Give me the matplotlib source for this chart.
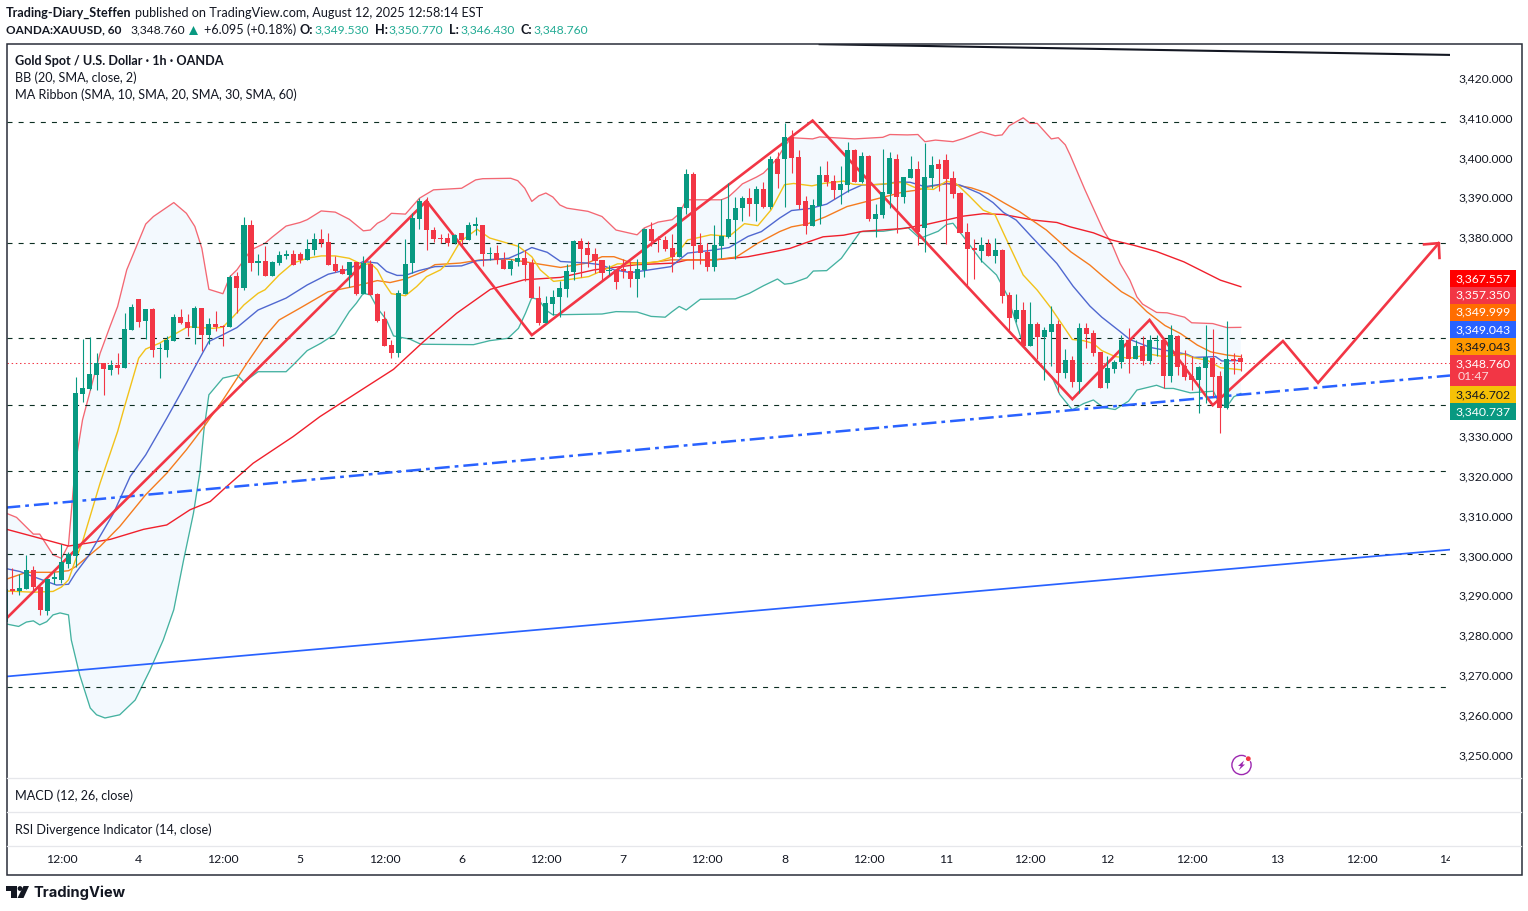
import numpy as np
import matplotlib
matplotlib.use('Agg')
import matplotlib.pyplot as plt
from matplotlib.patches import Rectangle, Circle, Polygon

# hourly candles, bar index = position on the chart
opens = [3283.4,3291.6,3291.1,3291.6,3296.4,3292.0,3286.1,3294.2,3293.9,3297.9,
3299.9,3340.6,3341.9,3345.4,3348.4,3346.7,3347.9,3347.2,3356.7,3364.5,
3359.0,3362.0,3351.8,3351.7,3353.9,3360.0,3358.7,3357.2,3362.2,3355.5,
3358.2,3357.7,3357.5,3370.3,3367.2,3383.1,3373.5,3374.0,3370.3,3373.5,
3375.3,3375.8,3375.8,3374.3,3376.8,3379.6,3378.8,3373.3,3372.0,3370.5,
3373.8,3365.8,3373.3,3365.8,3359.5,3352.9,3351.0,3365.8,3373.6,3384.6,
3389.1,3381.8,3379.9,3379.8,3378.5,3381.0,3379.3,3382.9,3383.1,3375.8,
3376.1,3374.3,3372.1,3373.8,3374.8,3373.5,3364.8,3358.4,3363.3,3365.0,
3367.0,3371.3,3379.1,3377.3,3375.8,3374.3,3371.5,3371.8,3372.1,3371.5,
3369.5,3371.8,3382.1,3379.5,3379.3,3377.3,3375.1,3387.4,3395.9,3378.1,
3376.3,3372.6,3377.8,3380.1,3384.4,3387.4,3389.9,3388.4,3392.2,3387.6,
3399.7,3399.6,3405.2,3400.1,3389.1,3382.8,3387.8,3395.6,3394.1,3391.8,
3393.1,3401.9,3393.9,3400.4,3384.6,3385.6,3390.8,3399.6,3390.1,3394.9,
3397.1,3382.3,3394.9,3398.4,3399.4,3394.9,3391.1,3381.3,3377.3,3376.5,
3378.4,3375.3,3376.8,3365.5,3359.4,3361.7,3352.6,3358.2,3354.9,3356.2,
3358.2,3345.9,3349.1,3343.6,3357.2,3355.9,3351.1,3343.4,3346.9,3348.6,
3354.2,3349.4,3352.7,3348.9,3353.9,3354.2,3345.1,3355.2,3347.6,3345.1,
3344.1,3347.1,3349.6,3345.1,3337.1,3349.4,3349.53]
highs = [3291.6,3296.8,3295.3,3300.2,3297.4,3292.4,3294.1,3296.0,3302.9,3301.0,
3344.8,3354.5,3354.9,3351.0,3348.5,3349.2,3350.9,3361.0,3363.2,3364.5,
3361.9,3362.2,3353.4,3355.2,3360.7,3362.0,3360.7,3362.6,3362.2,3359.7,
3361.5,3358.0,3370.5,3371.2,3385.1,3384.4,3375.8,3377.8,3374.0,3376.6,
3376.8,3376.8,3376.3,3379.6,3381.1,3382.1,3381.1,3375.3,3373.0,3373.8,
3373.8,3375.3,3374.3,3365.9,3361.5,3354.2,3366.8,3379.5,3386.0,3389.9,
3390.2,3382.5,3380.8,3381.0,3380.8,3381.0,3383.8,3385.0,3383.1,3377.5,
3378.1,3376.3,3374.6,3378.5,3376.8,3374.6,3367.8,3365.3,3366.8,3369.0,
3373.3,3379.3,3379.8,3379.1,3377.3,3374.3,3373.1,3371.8,3374.4,3373.9,
3374.5,3382.3,3383.8,3380.2,3380.3,3380.8,3387.7,3397.1,3396.4,3381.1,
3378.6,3383.1,3389.6,3393.6,3390.1,3390.4,3392.3,3392.9,3393.9,3400.3,
3401.3,3408.8,3406.9,3401.9,3390.3,3389.6,3397.9,3399.1,3395.6,3397.9,
3403.9,3402.1,3401.4,3400.6,3388.3,3402.1,3401.4,3400.9,3395.1,3400.4,
3399.1,3403.7,3400.4,3399.6,3400.8,3396.6,3391.3,3383.6,3379.5,3380.0,
3379.5,3379.8,3377.0,3366.2,3365.7,3363.7,3363.7,3358.7,3357.4,3362.7,
3359.2,3351.9,3350.1,3358.4,3358.4,3356.7,3351.1,3350.1,3349.1,3355.4,
3357.2,3354.2,3355.2,3355.4,3355.4,3354.5,3357.9,3355.4,3351.6,3350.1,
3347.6,3357.9,3356.9,3346.4,3358.9,3350.9,3350.77]
lows = [3283.0,3290.4,3290.0,3291.6,3291.2,3285.1,3285.1,3292.9,3293.2,3296.8,
3297.2,3338.7,3341.5,3341.5,3340.4,3345.4,3345.7,3347.2,3356.7,3357.5,
3354.5,3350.0,3344.7,3350.0,3353.9,3358.2,3355.2,3353.2,3351.4,3353.2,
3356.5,3352.7,3357.5,3360.9,3366.8,3371.5,3370.5,3370.3,3370.3,3373.0,
3374.6,3373.0,3373.5,3374.3,3375.6,3377.6,3373.0,3371.3,3370.8,3367.6,
3365.5,3365.8,3365.5,3358.7,3352.7,3349.7,3349.9,3365.8,3371.0,3382.1,
3376.7,3378.8,3378.5,3377.8,3378.3,3378.1,3379.2,3380.6,3372.8,3374.3,
3373.3,3372.1,3370.5,3372.8,3369.0,3364.8,3358.0,3358.4,3360.5,3360.0,
3365.0,3369.3,3370.1,3372.6,3371.0,3369.0,3370.4,3367.0,3369.8,3367.5,
3365.0,3369.9,3377.8,3376.3,3376.6,3371.3,3375.1,3385.9,3372.1,3373.3,
3371.5,3371.5,3374.8,3379.7,3374.6,3384.1,3385.4,3384.1,3387.4,3387.2,
3392.4,3387.7,3396.1,3387.1,3380.8,3382.8,3383.3,3392.8,3389.6,3388.3,
3391.3,3393.9,3393.6,3384.1,3380.0,3384.8,3387.3,3381.0,3388.6,3394.9,
3378.0,3376.3,3392.3,3391.6,3378.4,3389.8,3381.0,3367.7,3369.5,3373.8,
3375.3,3373.5,3363.5,3356.7,3358.7,3352.4,3352.6,3349.5,3344.1,3347.6,
3341.1,3344.6,3342.4,3340.9,3352.2,3350.1,3342.1,3342.1,3345.9,3347.1,
3345.9,3349.4,3347.9,3348.1,3350.1,3342.1,3343.6,3345.4,3344.1,3341.6,
3335.8,3338.3,3339.9,3330.8,3336.8,3345.6,3346.43]
closes = [3291.6,3291.1,3291.8,3296.4,3292.1,3286.4,3294.1,3294.4,3298.3,3300.3,
3340.8,3342.1,3345.7,3348.4,3346.9,3347.9,3347.2,3357.0,3362.5,3358.7,
3362.0,3351.7,3351.9,3354.2,3360.0,3358.5,3357.2,3362.2,3355.5,3358.2,
3357.5,3357.5,3370.0,3367.3,3383.1,3373.5,3374.0,3370.3,3373.8,3375.6,
3375.8,3373.0,3374.3,3377.1,3379.6,3378.6,3373.0,3371.5,3370.8,3373.8,
3365.8,3373.5,3365.5,3359.0,3352.7,3350.9,3366.1,3373.3,3384.9,3389.1,
3381.7,3379.6,3379.6,3378.5,3380.6,3379.3,3383.1,3383.1,3375.8,3376.1,
3374.3,3372.1,3374.1,3374.8,3373.1,3364.8,3358.4,3363.5,3365.0,3367.3,
3371.5,3379.1,3377.1,3375.6,3374.1,3371.0,3371.8,3368.8,3371.5,3369.5,
3372.1,3382.1,3379.1,3379.2,3377.1,3375.1,3387.6,3395.9,3377.8,3376.1,
3372.6,3378.1,3380.3,3384.6,3387.4,3389.9,3388.4,3392.2,3387.6,3399.7,
3395.9,3405.2,3399.9,3388.1,3382.8,3388.1,3395.6,3393.9,3391.8,3393.4,
3401.9,3393.9,3400.4,3384.6,3385.8,3391.3,3399.9,3390.1,3395.1,3397.1,
3381.3,3395.1,3398.1,3397.1,3394.6,3390.8,3381.0,3377.0,3376.8,3378.0,
3375.3,3376.8,3365.2,3359.7,3361.7,3352.6,3358.2,3354.9,3356.7,3358.2,
3345.9,3349.1,3343.6,3357.2,3355.7,3350.9,3342.1,3347.1,3348.6,3354.2,
3349.4,3352.7,3348.9,3354.2,3354.2,3345.1,3355.4,3347.4,3344.9,3344.1,
3347.4,3349.9,3344.9,3337.1,3349.4,3348.9,3348.76]

# indicator lines as (bar, price)
bb_upper = [(0.2,3310.6),(1.6,3309.6),(4,3305.4),(4.9,3305.4),(6.8,3300.2),(8,3299.3),(9,3302.7),(10,3323.2),(11,3334.1),(13.5,3350.8),
(14.9,3357.5),(16,3362.6),(17.3,3371.8),(20,3383.3),(21.1,3385.2),(24,3388.7),(25.8,3386),(27,3382.7),(28,3377.2),(29,3366.9),
(31,3365.8),(32,3370.1),(33,3371.8),(35,3376.8),(37,3378.5),(38,3380),(40,3382.8),(42,3383.7),(43,3384.4),(45,3386.6),
(47,3386.3),(49,3384.5),(51,3381.6),(52,3381.8),(53,3383.5),(54,3384.4),(55,3386),(57,3385.8),(59,3389.8),(61,3391.9),
(65,3392.3),(67,3394.4),(68,3394.7),(72,3394.8),(73,3394.2),(74,3392.3),(75,3389),(76,3390.4),(77,3391.1),(78,3390.1),
(79,3388.1),(80,3387.3),(83,3386.5),(85,3385.2),(87,3381.8),(90,3380.6),(91,3382.3),(93,3383.8),(95,3384.4),(96,3385.9),
(97,3389.4),(100,3389.4),(102,3389.4),(103,3390.1),(104,3391.7),(105,3393.4),(107,3395.1),(108,3396.1),(109,3397.9),(110,3399.9),
(111,3402.8),(112,3405),(115,3404.7),(116,3405.2),(121,3404.7),(125,3405.1),(126,3405.8),(128.5,3405.7),(130,3405.8),(131,3404),
(132.5,3404.4),(135,3404),(136.5,3404.8),(139,3406.5),(141,3405.5),(142,3405.7),(143,3408),(145,3410),(146,3408.6),(147,3408.6),
(149,3404.7),(150,3405),(151,3403.2),(151.7,3400.6),(153.8,3391.9),(156.4,3381.8),(157.6,3378.4),(158.8,3373.4),(160.2,3369.2),(161.2,3365),
(162,3363.2),(164,3361.1),(165.5,3361),(168,3359.9),(169,3358.5),(172,3358.3),(174,3357.3),(176,3357.35)]
bb_lower = [(0.2,3282.8),(1.9,3282.2),(3,3283.3),(4,3283.6),(4.9,3282.6),(5.9,3283.4),(6.8,3285.1),(7.8,3285.6),(9,3285.1),(9.4,3278.8),
(10.6,3270),(12.1,3261.7),(13,3260),(14.2,3259.2),(16.3,3260),(18.5,3263.7),(20.6,3271.2),(22.5,3278.8),(24,3286.4),(25.4,3298.9),(26.8,3310.6),
(27.7,3320.7),(28.3,3331.6),(29,3340.4),(31,3344.6),(33,3345.4),(34,3343.6),(36,3346.2),(40,3346.2),(41,3347.9),(43,3351.5),
(45,3353.4),(47,3355.7),(49,3361.3),(50,3363.4),(51,3365.9),(52,3365.5),(53,3362.2),(54.3,3359.2),(55.3,3355.2),(57.6,3354.4),
(59.2,3353.1),(66.7,3353),(69,3354),(71.6,3354.6),(73.1,3357.1),(74.1,3360.9),(75,3364.8),(76,3364.3),(77,3361.7),(78,3360.5),
(85,3360.7),(87,3361.3),(90,3361.2),(92,3360.1),(94,3359.9),(95,3361.3),(96,3362.6),(97,3361.7),(99,3364.4),(104,3364.5),
(106,3365.9),(108,3367.8),(110,3369.5),(111,3368.2),(112,3368.4),(114.2,3369.8),(115.1,3371.5),(117,3371.6),(119.1,3374.7),(121.8,3381.4),
(125.1,3381.5),(128.6,3382.4),(130.3,3379.7),(132.9,3381.5),(134.1,3383.2),(135,3383.5),(136.5,3380.1),(139.1,3374),(141.2,3370.5),(142.7,3365.5),
(145,3352.9),(146.9,3348.7),(149.1,3344.9),(150.2,3340.5),(152,3336.6),(153.6,3338.2),(155,3339.1),(156.4,3337.2),(158.1,3336.7),(160,3338.8),
(161.2,3341.6),(164,3342.8),(165.2,3342),(166.4,3342),(168.8,3340.9),(172.1,3341.3),(172.9,3338.2),(174,3337.4),(175,3339.9),(176,3340.74)]
ma10 = [(0.2,3291.1),(4,3290.8),(6.8,3291),(8,3292.1),(9,3293.9),(10,3298.9),(11,3303.5),(13.5,3318.2),(16,3331.2),(17,3337.5),
(19,3349.6),(20,3351.9),(22,3353.4),(24,3355.5),(26,3357.5),(29.6,3357.1),(31,3357.4),(32.5,3360.1),(34,3363),(36,3365.9),
(37,3366.8),(39,3370.5),(41,3373.5),(43,3374.7),(45,3375.3),(47,3375.3),(49,3374.7),(51,3373),(52,3373.5),(53,3371.8),
(54,3368.4),(55,3365.8),(57,3365.3),(58.6,3367.6),(60,3370.1),(62,3371.8),(63,3373.5),(64.8,3378.9),(67.2,3382),(69,3379.8),
(73.1,3377.7),(75,3375.1),(76.2,3371.8),(78.1,3368.9),(80,3369.3),(83.1,3370.1),(85.3,3371.8),(87.2,3373.3),(90.1,3373.3),(93.1,3373.9),
(95.1,3375.1),(96.5,3377.7),(97.2,3379.3),(100.5,3380.6),(103.1,3380.2),(105.3,3383.4),(107.2,3382.9),(109.1,3386.9),(111,3393.2),(112.3,3393.5),
(114.9,3392.9),(116.5,3393.5),(119.4,3394.1),(120.8,3393.3),(123.2,3393.1),(127.9,3393.8),(129.8,3392.3),(132.2,3392),(134.1,3394.1),(135.5,3393.4),
(137.4,3390.2),(139.3,3386.8),(141,3385.6),(142.2,3381),(145,3370.5),(147,3366.7),(149,3362.1),(152,3354.3),(153.6,3354),(155,3353.3),
(156.2,3351.5),(158.1,3350),(160.2,3349.6),(163.1,3350.6),(165,3350),(167.9,3350.6),(169.3,3349.7),(171.2,3349.1),(173.1,3347.2),(176,3346.7)]
ma20 = [(0.2,3296.7),(2.1,3296),(4,3294.7),(5.9,3293.5),(7.3,3292.6),(9,3292.8),(10,3295.6),(11.8,3299.8),(15.4,3310.6),(17.8,3319.9),
(20,3325.3),(23,3334.5),(25.4,3342.1),(27.3,3348.3),(29,3353.8),(31,3355.5),(33,3357.3),(36,3361.7),(40,3364.7),(43,3368),
(46,3370.7),(48.6,3371.8),(51,3373.9),(53,3373.5),(54.3,3371.4),(55.8,3370.4),(57,3370.4),(58.9,3371.6),(61.2,3372.6),(65,3372.8),
(67.2,3374.1),(71.7,3374.7),(73.4,3376),(75,3377.4),(77.2,3376.2),(79.1,3373.9),(82.9,3373.5),(84.8,3373.1),(86.7,3371.8),(89.1,3371.1),
(94.8,3372.6),(97.2,3376),(101,3376.8),(103.1,3377.4),(105.8,3380.2),(107.7,3381.4),(110.3,3384.8),(112,3386.7),(114.6,3387.2),(117,3388.3),
(120.1,3391.6),(122,3393.1),(125.1,3393.3),(127,3393.9),(128.9,3393.8),(131,3392.7),(134.1,3393.5),(136,3393.1),(138.8,3391),(140.7,3388.7),
(142.2,3386.2),(144,3384.3),(146.2,3380.1),(149.8,3373.4),(152.1,3367.7),(154.5,3362.7),(156.2,3359.9),(158.8,3356.3),(160.2,3354.3),(163.1,3352.3),
(166.4,3351.2),(168.3,3350.6),(169.3,3349.8),(172.4,3350),(173.3,3348.9),(176,3349.04)]
ma30 = [(0.2,3294.1),(3,3295.8),(6.8,3295.8),(9,3296.2),(10,3297.2),(13.5,3302.3),(16.3,3307.3),(20,3315.3),(23,3320.7),(25.8,3326.6),
(28.3,3332.4),(31,3339.1),(34.4,3348.3),(37.2,3355.5),(39,3359.2),(42,3362.2),(46,3366.3),(49.6,3367.6),(53,3369.1),(54.8,3368.6),
(57,3369.5),(59.6,3371.4),(61.2,3373.1),(64.8,3373.5),(67.7,3374.3),(71.7,3374.5),(74.8,3373.6),(79.1,3372.4),(82.9,3373.5),(85,3375.1),
(86.7,3375.1),(89.1,3373.6),(91.5,3373.5),(94.8,3374.3),(101,3374.3),(104.1,3375),(107.2,3378.5),(110.3,3381.4),(112,3382.6),(114.2,3383.3),
(116.8,3385.1),(119.9,3387.7),(123.2,3389.2),(128,3391.4),(129.8,3391.8),(131.7,3392.7),(134.2,3393.5),(137.6,3392.4),(140,3391),(142.2,3388.7),
(144.5,3386.4),(148.3,3381.8),(151.8,3376.3),(154.5,3373),(156.4,3370.1),(159,3366.3),(160.7,3364.6),(162.6,3361.3),(165.2,3357.8),(167.4,3355.8),
(169.8,3352.9),(171.7,3351.2),(174,3350.4),(176,3350)]
ma60 = [(0.2,3306.6),(4,3304.8),(9,3302.4),(11.6,3303.1),(15,3304.1),(19.7,3306.6),(23,3307.7),(26.3,3311.5),(29.2,3313.6),(31.5,3317.3),
(35.3,3323.2),(41,3329.9),(44.8,3334.9),(51.5,3342.5),(55.3,3346.8),(59.6,3353.8),(64.3,3360.9),(69.1,3366.9),(73.9,3369.3),(79.1,3369.9),
(83.9,3371.8),(90,3373.1),(95.3,3373.5),(97.2,3374.3),(101,3374.3),(105.8,3375.1),(109.6,3376.4),(111.8,3377.2),(113.7,3378.4),(116.5,3380.1),
(119.4,3380.5),(122.2,3381.5),(128,3382.2),(131.2,3383.2),(136.5,3385.3),(139.3,3385.9),(142.2,3385.7),(146.5,3384.3),(149.8,3383.7),(151.7,3382.6),
(155,3381.1),(157.6,3379.3),(160.7,3378),(164,3376.4),(167.9,3373.8),(173.1,3369.2),(176,3367.56)]

# drawings
zigzag = [(0.1,3284.1),(60,3389.1),(75,3355.4),(115,3409.3),(152,3339.3),(163,3359.2),(172,3337.8),(182,3353.9),(187,3343.4),(204.2,3378.5)]
arrow_wings = [(202.1,3378.2),(204.2,3378.5),(204.3,3374.8)]
black_trend = [(116,3428.5),(205.8,3425.8)]
blue_trend = [(0,3269.6),(205.8,3301.5)]
blue_dashdot = [(0,3312.05),(205.8,3345.25)]
levels = [3409,3378.6,3354.7,3337.9,3321.2,3300.3,3267]
price_line = 3348.5

price_ticks = [3250,3260,3270,3280,3290,3300,3310,3320,3330,3380,3390,3400,3410,3420]
time_bars = [8,19,31,42,54,65,77,88,100,111,123,134,146,157,169,181.2,193.2,205.3]
time_labels = ['12:00','4','12:00','5','12:00','6','12:00','7','12:00','8','12:00','11','12:00','12','12:00','13','12:00','14']

scale_values = ['3,367.557','3,357.350','3,349.999','3,349.043','3,349.043','3,348.760','3,346.702','3,340.737']
scale_colors = ['#ff0000','#f23645','#ff6d00','#2962ff','#ff9800','#f23645','#f5c107','#089981']
scale_text = ['white','white','white','white','#131722','white','#131722','white']
scale_rows = [(270,286.7),(286.7,303.8),(303.8,321),(321,338),(338,355),(355,386),(386,403),(403,419.5)]

W, H = 1528, 911
GREEN, RED = '#089981', '#f23645'
plt.rcParams['font.family'] = 'Lato'

fig = plt.figure(figsize=(W / 100, H / 100), dpi=100, facecolor='white')
ax = fig.add_axes([6.5 / W, 1 - 778 / H, (1450 - 6.5) / W, (778 - 44) / H])
ax.set_xlim((6.5 - 5.3) / 7.02, (1450 - 5.3) / 7.02)
ax.set_ylim(3420 - (778 - 78) / 3.98, 3420 + (78 - 44) / 3.98)
for s in ax.spines.values():
    s.set_visible(False)

# bollinger band
up = np.array(bb_upper)
lo = np.array(bb_lower)
ax.fill(np.r_[up[:, 0], lo[::-1, 0]], np.r_[up[:, 1], lo[::-1, 1]], color='#f3f9fe', lw=0, zorder=1)
ax.plot(up[:, 0], up[:, 1], color=RED, lw=0.95, alpha=0.75, zorder=2)
ax.plot(lo[:, 0], lo[:, 1], color=GREEN, lw=0.95, alpha=0.75, zorder=2)

# ma ribbon
for line, col in [(ma60, '#f0202c'), (ma30, '#f57c1f'), (ma20, '#5068d0'), (ma10, '#f2c21a')]:
    arr = np.array(line)
    ax.plot(arr[:, 0], arr[:, 1], color=col, lw=1.0, zorder=2)

# horizontal levels and price line
for lv in levels:
    ax.axhline(lv, color='#0c2e22', lw=0.8, ls=(0, (4.5, 5.5)), zorder=2)
ax.axhline(price_line, color=RED, lw=0.75, ls=(0, (1.4, 2.6)), zorder=2)

# trend lines
blk = np.array(black_trend)
ax.plot(blk[:, 0], blk[:, 1], color='#131722', lw=1.5, zorder=3)
blu = np.array(blue_trend)
ax.plot(blu[:, 0], blu[:, 1], color='#2962ff', lw=1.25, zorder=3)
dd = np.array(blue_dashdot)
ax.plot(dd[:, 0], dd[:, 1], color='#2962ff', lw=1.8, ls=(0, (6, 2, 1.5, 2)), zorder=3)

zz = np.array(zigzag)
ax.plot(zz[:, 0], zz[:, 1], color=RED, lw=1.9, zorder=3, solid_joinstyle='miter')
aw = np.array(arrow_wings)
ax.plot(aw[:, 0], aw[:, 1], color=RED, lw=1.9, zorder=3)

# candles
opens_a, highs_a, lows_a, closes_a = map(np.array, (opens, highs, lows, closes))
bars = np.arange(len(opens_a))
cols = [GREEN if c >= o else RED for o, c in zip(opens_a, closes_a)]
ax.vlines(bars, lows_a, highs_a, colors=cols, lw=0.8, zorder=4)
ax.bar(bars, np.maximum(np.abs(closes_a - opens_a), 0.3), bottom=np.minimum(opens_a, closes_a),
       width=0.72, color=cols, lw=0, zorder=5)

# axes text
ax.yaxis.tick_right()
ax.set_yticks(price_ticks, [f'{p:,.3f}' for p in price_ticks])
ax.tick_params(axis='y', length=0, pad=6.3, labelsize=8.7, labelcolor='#131722')
ax.set_xticks(time_bars, time_labels)
ax.tick_params(axis='x', length=0, pad=54.5, labelsize=8.8, labelcolor='#131722')

# everything else sits on a pixel overlay
ov = fig.add_axes([0, 0, 1, 1], facecolor='none')
ov.set_xlim(0, W)
ov.set_ylim(H, 0)
ov.axis('off')


def txt(x, y, s, **kw):
    kw.setdefault('fontsize', 9.05)
    kw.setdefault('color', '#131722')
    kw.setdefault('va', 'center')
    return ov.text(x, y, s, **kw)


# pane separators
for y in (778, 812, 846):
    ov.plot([7, 1521], [y, y], color='#e6e7eb', lw=0.9)
ov.add_patch(Rectangle((1449.5, 847), 70, 26, color='white', lw=0))
ov.add_patch(Rectangle((6.5, 43.5), 1515, 831, fill=False, ec='#2a2e39', lw=1.1))

# price labels on the scale
for val, col, tc, (y0, y1) in zip(scale_values, scale_colors, scale_text, scale_rows):
    ov.add_patch(Rectangle((1450, y0), 66, y1 - y0, color=col, lw=0))
    txt(1511, y0 + 8.5, val, ha='right', color=tc, fontsize=8.8)
txt(1458, 377, '01:47', color='white', fontsize=8.8, alpha=0.8)

# header
txt(6, 13, 'Trading-Diary_Steffen', fontweight='bold')
txt(135, 13, 'published on TradingView.com, August 12, 2025 12:58:14 EST')
txt(6, 30, 'OANDA:XAUUSD, 60', fontweight='bold', fontsize=8.5)
txt(130, 30, '3,348.760', fontsize=8.7)
ov.add_patch(Polygon([[189, 35], [198, 35], [193.5, 26]], color=GREEN, lw=0))
txt(204, 30, '+6.095 (+0.18%)')
TEAL = '#22ab94'
for x, lab, xv, val in [(300, 'O:', 314, '3,349.530'), (375.5, 'H:', 388, '3,350.770'),
                        (449.5, 'L:', 460.5, '3,346.430'), (520.5, 'C:', 533.5, '3,348.760')]:
    txt(x, 30, lab, fontweight='bold')
    txt(xv, 30, val, color=TEAL, fontsize=8.7)

# legend rows
txt(15, 61, 'Gold Spot / U.S. Dollar · 1h · OANDA', fontweight='bold')
txt(15, 78, 'BB (20, SMA, close, 2)')
txt(15, 95, 'MA Ribbon (SMA, 10, SMA, 20, SMA, 30, SMA, 60)')
txt(15, 796, 'MACD (12, 26, close)')
txt(15, 830, 'RSI Divergence Indicator (14, close)')

# tradingview logo
ov.add_patch(Polygon([[6, 886], [16.7, 886], [16.7, 898], [11, 898], [11, 891], [6, 891]], color='#131722', lw=0))
ov.add_patch(Circle((20, 888.5), 2.4, color='#131722', lw=0))
ov.add_patch(Polygon([[23.5, 886], [29, 886], [23.5, 898], [17.5, 898]], color='#131722', lw=0))
txt(34, 892.5, 'TradingView', fontsize=10.6, fontweight='bold', family='Inter')

# lightning badge
ov.add_patch(Circle((1241.5, 765), 9.6, fill=False, ec='#9c27b0', lw=1.0))
ov.add_patch(Polygon([[1244, 760.5], [1238, 766], [1240.8, 766], [1239, 770], [1245, 764.5], [1242.4, 764.5]], color='#9c27b0', lw=0))
ov.add_patch(Circle((1248.3, 758.7), 3.2, color='white', lw=0))
ov.add_patch(Circle((1248.3, 758.7), 2.4, color=RED, lw=0))

fig.savefig('out.png', dpi=100)
